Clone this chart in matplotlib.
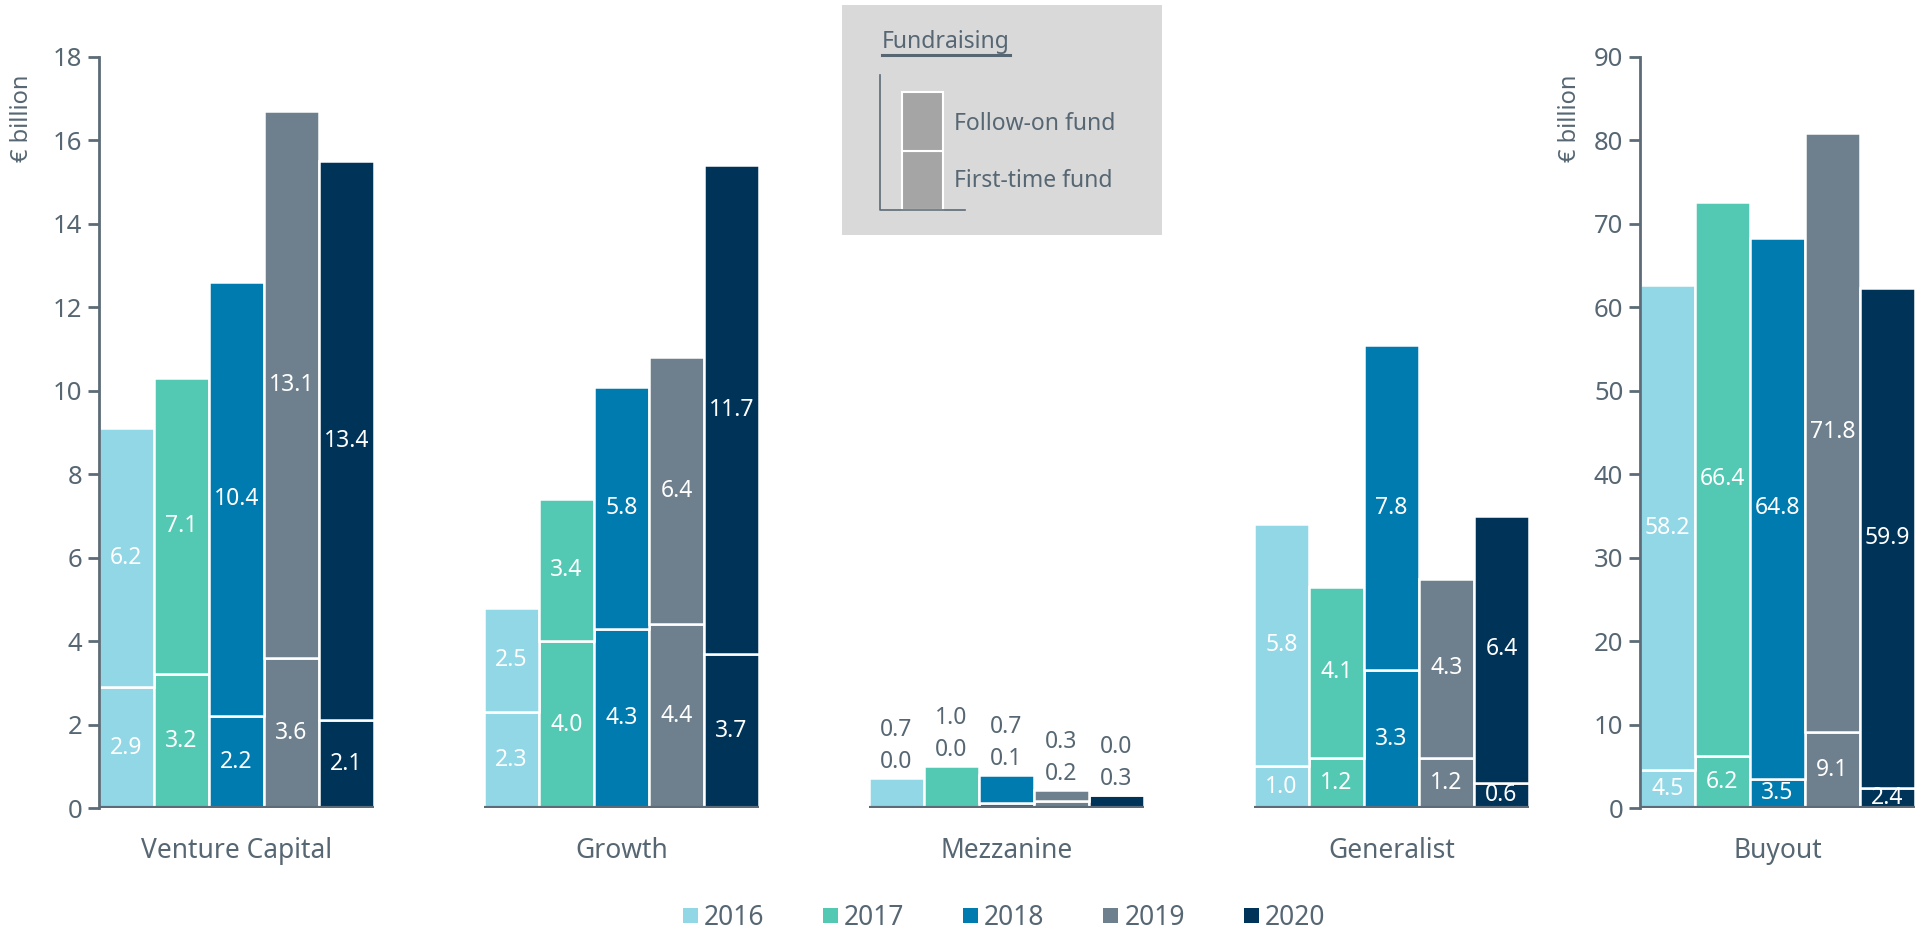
import numpy as np
import matplotlib.pyplot as plt
from matplotlib.patches import Patch

plt.rcParams['font.family'] = ['Noto Sans', 'DejaVu Sans']

categories = ['Venture Capital', 'Growth', 'Mezzanine', 'Generalist', 'Buyout']
years = ['2016', '2017', '2018', '2019', '2020']
colors = ['#92D7E6', '#53C9B4', '#007BAF', '#6E7F8D', '#003358']

# bottom segment of each bar
first_time = [
    [2.9, 3.2, 2.2, 3.6, 2.1],       # Venture Capital
    [2.3, 4.0, 4.3, 4.4, 3.7],       # Growth
    [0.0, 0.0, 0.12, 0.17, 0.3],     # Mezzanine
    [1.0, 1.2, 3.3, 1.2, 0.6],       # Generalist
    [4.5, 6.2, 3.5, 9.1, 2.4],       # Buyout (right axis)
]
# top segment
follow_on = [
    [6.2, 7.1, 10.4, 13.1, 13.4],
    [2.5, 3.4, 5.8, 6.4, 11.7],
    [0.72, 1.0, 0.67, 0.26, 0.0],
    [5.8, 4.1, 7.8, 4.3, 6.4],
    [58.2, 66.4, 64.8, 71.8, 59.9],
]
left_ticks = [0, 2, 4, 6, 8, 10, 12, 14, 16, 18]
right_ticks = [0, 10, 20, 30, 40, 50, 60, 70, 80, 90]

txt = '#566773'
axc = '#5C6B77'
W, H = 1931, 932

fig = plt.figure(figsize=(W / 100, H / 100), dpi=100)
bot = 1 - 808 / H
hgt = (808 - 57) / H
unit = 55.0  # px per bar slot
ax1 = fig.add_axes([99 / W, bot, 26 * unit / W, hgt])
ax2 = fig.add_axes([1640 / W, bot, 5 * unit / W, hgt])

group_gap = 7
for gi, cat in enumerate(categories):
    ax = ax1 if gi < 4 else ax2
    x0 = gi * group_gap
    xs = x0 + np.arange(len(years))
    ft = np.array(first_time[gi])
    fo = np.array(follow_on[gi])
    ax.bar(xs, ft, width=1.0, color=colors, edgecolor='white', linewidth=1.8)
    ax.bar(xs, fo, bottom=ft, width=1.0, color=colors, edgecolor='white', linewidth=1.8)
    ax.hlines(0, x0 - 0.5, x0 + len(years) - 0.5, color=axc, linewidth=3, zorder=5)
    for x, a, b in zip(xs, ft, fo):
        if cat == 'Mezzanine':
            ax.annotate(f'{a:.1f}', (x, a + b), xytext=(0, 3), textcoords='offset points',
                        ha='center', va='bottom', fontsize=16.5, color=txt)
            ax.annotate(f'{b:.1f}', (x, a + b), xytext=(0, 26), textcoords='offset points',
                        ha='center', va='bottom', fontsize=16.5, color=txt)
        else:
            ax.text(x, a / 2, f'{a:.1f}', ha='center', va='center', fontsize=16.5,
                    color='white', clip_on=True)
            ax.text(x, a + b / 2, f'{b:.1f}', ha='center', va='center', fontsize=16.5,
                    color='white', clip_on=True)

ax1.set_xlim(-0.5, 25.5)
ax1.set_ylim(0, 18)
ax1.set_yticks(left_ticks)
ax1.set_xticks([i * group_gap + 2 for i in range(4)])
ax1.set_xticklabels(categories[:4])
ax2.set_xlim(4 * group_gap - 0.5, 4 * group_gap + 4.5)
ax2.set_ylim(0, 90)
ax2.set_yticks(right_ticks)
ax2.set_xticks([4 * group_gap + 2])
ax2.set_xticklabels(categories[4:])

for ax in (ax1, ax2):
    for s in ('top', 'right', 'bottom'):
        ax.spines[s].set_visible(False)
    ax.spines['left'].set_color(axc)
    ax.spines['left'].set_linewidth(2)
    ax.tick_params(axis='y', colors=axc, labelcolor=txt, labelsize=18.5, length=8, width=2, pad=4)
    ax.tick_params(axis='x', length=0, labelcolor=txt, labelsize=19, pad=21)
    ax.set_facecolor('none')

fig.text(22 / W, 1 - 118 / H, '€ billion', rotation=90, ha='center', va='center',
         fontsize=17, color=txt)
fig.text(1570 / W, 1 - 118 / H, '€ billion', rotation=90, ha='center', va='center',
         fontsize=17, color=txt)

# fundraising key box
kx, ky, kw, kh = 842, 5, 320, 230
axk = fig.add_axes([kx / W, 1 - (ky + kh) / H, kw / W, kh / H])
axk.set_facecolor('#D9D9D9')
axk.set_xlim(0, kw)
axk.set_ylim(0, kh)
axk.set_xticks([])
axk.set_yticks([])
for s in axk.spines.values():
    s.set_visible(False)
axk.plot([38, 38, 123], [160, 25, 25], color=axc, linewidth=1.2)
axk.bar([80.5], [59], bottom=[25], width=41, color='#A5A5A5', edgecolor='white', linewidth=1.5)
axk.bar([80.5], [59], bottom=[84], width=41, color='#A5A5A5', edgecolor='white', linewidth=1.5)
axk.text(112, 111, 'Follow-on fund', fontsize=16.5, color=txt, va='center')
axk.text(112, 54, 'First-time fund', fontsize=16.5, color=txt, va='center')
ft_title = axk.text(40, 193, 'Fundraising', fontsize=16.5, fontweight='bold', color=txt, va='center')
fig.canvas.draw()
bb = ft_title.get_window_extent().transformed(axk.transData.inverted())
axk.plot([bb.x0, bb.x1], [bb.y0 - 1, bb.y0 - 1], color=txt, linewidth=2.2)

handles = [Patch(facecolor=c, edgecolor='none', label=y) for c, y in zip(colors, years)]
fig.legend(handles=handles, loc='center', bbox_to_anchor=(1004 / W, 1 - 918 / H), ncol=5,
           frameon=False, fontsize=19, handlelength=0.57, handleheight=0.5,
           handletextpad=0.23, columnspacing=2.22, labelcolor=txt)

fig.savefig('out.png', dpi=100)
